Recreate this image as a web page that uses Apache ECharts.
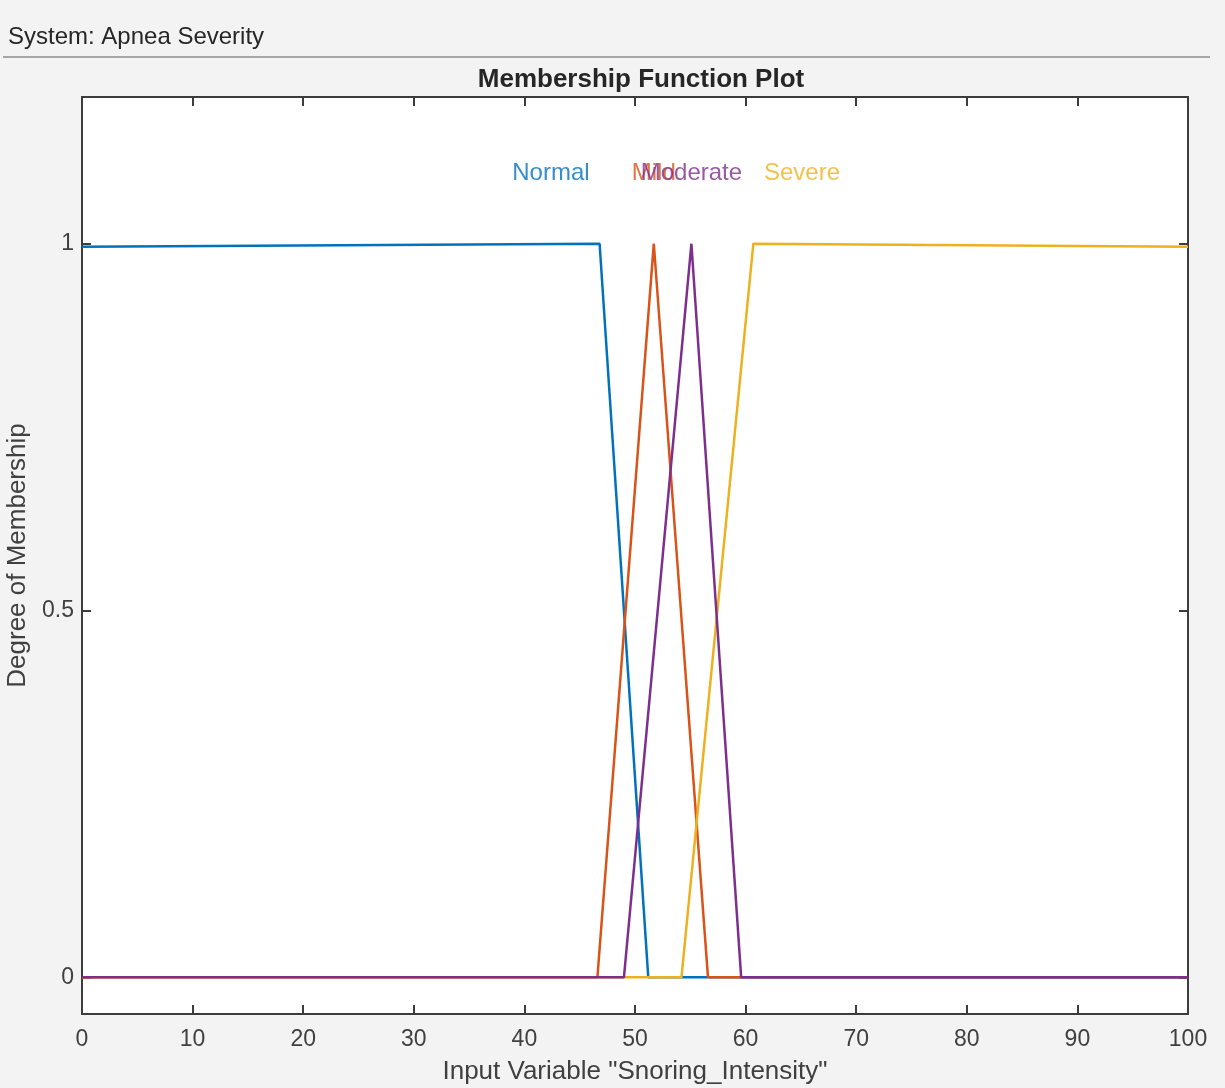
<!DOCTYPE html>
<html>
<head>
<meta charset="utf-8">
<script src="https://cdn.jsdelivr.net/npm/echarts@6/dist/echarts.min.js"></script>
<style>
  html, body { margin: 0; background: #f3f3f3; }
  #chart { width: 1225px; height: 1088px; }
</style>
</head>
<body>
<div id="chart"></div>
<script>
// membership functions of "Snoring_Intensity"
const mfNames = ['Normal', 'Mild', 'Moderate', 'Severe']
const normalX = [0, 46.8, 51.2, 100]
const normalY = [0.996, 1, 0, 0]
const mildX = [0, 46.6, 51.7, 56.6, 100]
const mildY = [0, 0, 1, 0, 0]
const moderateX = [0, 49.0, 55.1, 59.6, 100]
const moderateY = [0, 0, 1, 0, 0]
const severeX = [0, 54.2, 60.7, 100]
const severeY = [0, 0, 1, 0.996]
// where the names are written
const labelX = [42.4, 51.7, 55.1, 65.1]
const labelY = [1.096, 1.096, 1.096, 1.096]
const yTicks = [0, 0.5, 1]

const colors = ['#0072BD', '#D95319', '#7E2F8E', '#EDB120']
const font = 'Liberation Sans, Arial, sans-serif'

const pairs = (xs, ys) => xs.map((x, i) => [x, ys[i]])
const curves = [
  pairs(normalX, normalY),
  pairs(mildX, mildY),
  pairs(moderateX, moderateY),
  pairs(severeX, severeY)
]
// drawing order seen on the zero line: Normal, Mild, Severe, Moderate
const zOrder = [2, 3, 5, 4]

const chart = echarts.init(document.getElementById('chart'))

const lineSeries = mfNames.map((name, i) => ({
  name: name,
  type: 'line',
  data: curves[i],
  symbol: 'none',
  z: zOrder[i],
  lineStyle: { color: colors[i], width: 2.5 },
  itemStyle: { color: colors[i] },
  animation: false
}))

const labelSeries = {
  type: 'scatter',
  symbolSize: 1,
  z: 10,
  silent: true,
  animation: false,
  itemStyle: { color: 'rgba(0,0,0,0)' },
  data: mfNames.map((name, i) => ({
    name: name,
    value: [labelX[i], labelY[i]],
    label: {
      show: true,
      position: 'inside',
      formatter: name,
      color: colors[i],
      fontSize: 24,
      fontFamily: font
    }
  }))
}

const axisLineStyle = { color: '#3c3c3c', width: 2 }

chart.setOption({
  backgroundColor: '#f3f3f3',
  title: {
    text: 'Membership Function Plot',
    left: 636,
    top: 62,
    textAlign: 'center',
    textStyle: { fontSize: 26, fontWeight: 'bold', color: '#262626', fontFamily: font }
  },
  graphic: [
    {
      type: 'text',
      left: 8,
      top: 25,
      style: { text: 'System: Apnea Severity', fontSize: 24, fill: '#262626', fontFamily: font }
    },
    {
      type: 'line',
      shape: { x1: 3, y1: 57, x2: 1210, y2: 57 },
      style: { stroke: '#8c8c8c', lineWidth: 1.5 }
    }
  ],
  grid: {
    left: 82,
    right: 37,
    top: 97,
    bottom: 74,
    containLabel: false,
    outerBoundsMode: 'none',
    show: true,
    backgroundColor: '#ffffff',
    borderWidth: 0
  },
  xAxis: [
    {
      type: 'value',
      min: 0,
      max: 100,
      interval: 10,
      position: 'bottom',
      name: 'Input Variable "Snoring_Intensity"',
      nameLocation: 'middle',
      nameGap: 45,
      nameTextStyle: { fontSize: 26, color: '#404040', fontFamily: font },
      axisLine: { show: true, onZero: false, lineStyle: axisLineStyle },
      axisTick: { show: true, inside: true, length: 9, lineStyle: axisLineStyle },
      axisLabel: { fontSize: 23, color: '#404040', margin: 14, fontFamily: font },
      splitLine: { show: false }
    },
    {
      type: 'value',
      min: 0,
      max: 100,
      interval: 10,
      position: 'top',
      axisLine: { show: true, onZero: false, lineStyle: axisLineStyle },
      axisTick: { show: true, inside: true, length: 9, lineStyle: axisLineStyle },
      axisLabel: { show: false },
      splitLine: { show: false }
    }
  ],
  yAxis: [
    {
      type: 'value',
      min: -0.05,
      max: 1.2,
      position: 'left',
      name: 'Degree of Membership',
      nameLocation: 'middle',
      nameGap: 45,
      nameTextStyle: { fontSize: 26, color: '#404040', fontFamily: font },
      axisLine: { show: true, onZero: false, lineStyle: axisLineStyle },
      axisTick: { show: true, inside: true, length: 9, lineStyle: axisLineStyle, customValues: yTicks },
      axisLabel: { fontSize: 23, color: '#404040', margin: 8, fontFamily: font, customValues: yTicks },
      splitLine: { show: false }
    },
    {
      type: 'value',
      min: -0.05,
      max: 1.2,
      position: 'right',
      axisLine: { show: true, onZero: false, lineStyle: axisLineStyle },
      axisTick: { show: true, inside: true, length: 9, lineStyle: axisLineStyle, customValues: yTicks },
      axisLabel: { show: false },
      splitLine: { show: false }
    }
  ],
  series: lineSeries.concat([labelSeries])
})
</script>
</body>
</html>
